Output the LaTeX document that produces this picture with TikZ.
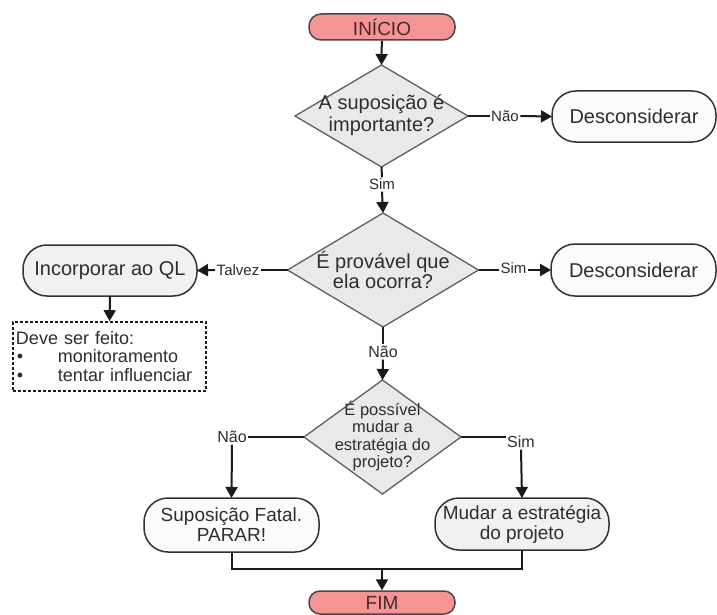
\documentclass[tikz,border=0pt]{standalone}
\usepackage{fontspec}
\setmainfont{Liberation Sans}
\usetikzlibrary{shapes.geometric,arrows.meta}
\definecolor{txt}{HTML}{2E2E2E}
\definecolor{ln}{HTML}{1A1A1A}
\definecolor{pinkfill}{HTML}{F49494}
\definecolor{termtxt}{HTML}{4A2828}
\definecolor{diafill}{HTML}{E9E9E9}
\definecolor{boxfill}{HTML}{FBFBFB}
\definecolor{boxgray}{HTML}{F1F1F1}
\tikzset{
  every node/.style={text=txt},
  term/.style={draw=ln!80, line width=1.5pt, fill=pinkfill, rounded corners=12pt,
    minimum width=146pt, inner sep=0pt, text=termtxt, font=\fontsize{19}{20}\selectfont},
  dia/.style={diamond, draw=ln!70, line width=1.3pt, fill=diafill, inner sep=0pt, outer sep=0pt},
  dtext/.style={align=center, inner sep=0pt},
  rbox/.style={draw=ln!90, line width=1.5pt, fill=boxfill, rounded corners=24pt,
    inner sep=0pt, outer sep=0pt, align=center, font=\fontsize{19}{20}\selectfont},
  lab/.style={inner sep=1.5pt, font=\fontsize{15}{16}\selectfont},
  conn/.style={draw=ln, line width=2pt},
  arr/.style={conn, -{Triangle[length=11pt,width=12pt]}},
}
\begin{document}
\begin{tikzpicture}[x=1pt,y=-1pt]
\useasboundingbox[fill=white] (0,0) rectangle (717,615);

% terminals
\node[term, minimum height=26pt] (ini) at (382,27) {INÍCIO};
\node[term, minimum height=23pt, rounded corners=11pt] (fim) at (382,602.5) {FIM};

% diamonds
\node[dia, minimum width=173pt, minimum height=102pt] (d1) at (381.5,116) {};
\node[dtext, font=\fontsize{20}{22}\selectfont] at ([yshift=0.5pt]d1) {A suposição é\\importante?};
\node[dia, minimum width=191pt, minimum height=114pt] (d2) at (383,270) {};
\node[dtext, font=\fontsize{20}{20}\selectfont] at (d2) {É provável que\\ela ocorra?};
\node[dia, minimum width=157pt, minimum height=114pt] (d3) at (382.5,437) {};
\node[dtext, font=\fontsize{16.5}{17.5}\selectfont] at ([yshift=1pt]d3) {É possível\\mudar a\\estratégia do\\projeto?};

% boxes
\node[rbox, minimum width=164pt, minimum height=51pt, font=\fontsize{20}{20}\selectfont] (desc1) at (634,116.5) {Desconsiderar};
\node[rbox, minimum width=165pt, minimum height=52pt, font=\fontsize{20}{20}\selectfont] (desc2) at (633.5,270) {Desconsiderar};
\node[rbox, fill=boxgray, minimum width=174pt, minimum height=51pt, font=\fontsize{20}{20}\selectfont] (inc) at (110,270.5) {Incorporar ao QL};
\node[rbox, minimum width=175pt, minimum height=54pt] (sup) at (231.5,525) {Suposição Fatal.\\PARAR!};
\node[rbox, fill=boxgray, minimum width=174pt, minimum height=52pt] (mud) at (522,524) {Mudar a estratégia\\do projeto};

% dashed note
\node[draw=ln, line width=1.7pt, dash pattern=on 3pt off 2pt, fill=white,
  minimum width=193pt, minimum height=69pt, inner sep=0pt, text width=187pt,
  align=left, font=\fontsize{18}{18.5}\selectfont] (note) at (109.5,356.5)
  {Deve ser feito:\\\makebox[42pt][l]{\hspace{1pt}•}monitoramento\\\makebox[42pt][l]{\hspace{1pt}•}tentar influenciar};

% labels
\node[lab] (lnao1) at (505,116) {Não};
\node[lab] (lsim1) at (382,184.5) {Sim};
\node[lab] (ltal) at (238,270) {Talvez};
\node[lab] (lsim2) at (513.5,268.5) {Sim};
\node[lab, font=\fontsize{16}{17}\selectfont] (lnao2) at (383,352) {Não};
\node[lab, font=\fontsize{16}{17}\selectfont] (lnao3) at (232,437) {Não};
\node[lab, font=\fontsize{16}{17}\selectfont] (lsim3) at (521,442) {Sim};
\coordinate (join) at (382,568.5);

% connectors
\draw[arr] (ini) -- (d1.north);
\draw[conn] (d1.east) -- (lnao1.west);
\draw[arr] (lnao1.east) -- (desc1.west);
\draw[conn] (d1.south) -- (lsim1.north);
\draw[arr] (lsim1.south) -- (d2.north);
\draw[conn] (d2.west) -- (ltal.east);
\draw[arr] (ltal.west) -- (inc.east);
\draw[conn] (d2.east) -- (d2.east -| lsim2.west);
\draw[arr] (lsim2.east |- d2.east) -- (desc2.west);
\draw[arr] (inc.south) -- (note.north);
\draw[conn] (d2.south) -- (lnao2.north);
\draw[arr] (lnao2.south) -- (d3.north);
\draw[conn] (d3.west) -- (lnao3.east |- d3.west);
\draw[arr] (lnao3.south) -- (sup.north);
\draw[conn] (d3.east) -- (d3.east -| lsim3.west);
\draw[arr] (lsim3.south) -- (mud.north);
\draw[conn] (sup.south) -- (sup.south |- join) -- (mud.south |- join) -- (mud.south);
\draw[arr] (join) -- (fim.north);
\end{tikzpicture}
\end{document}
